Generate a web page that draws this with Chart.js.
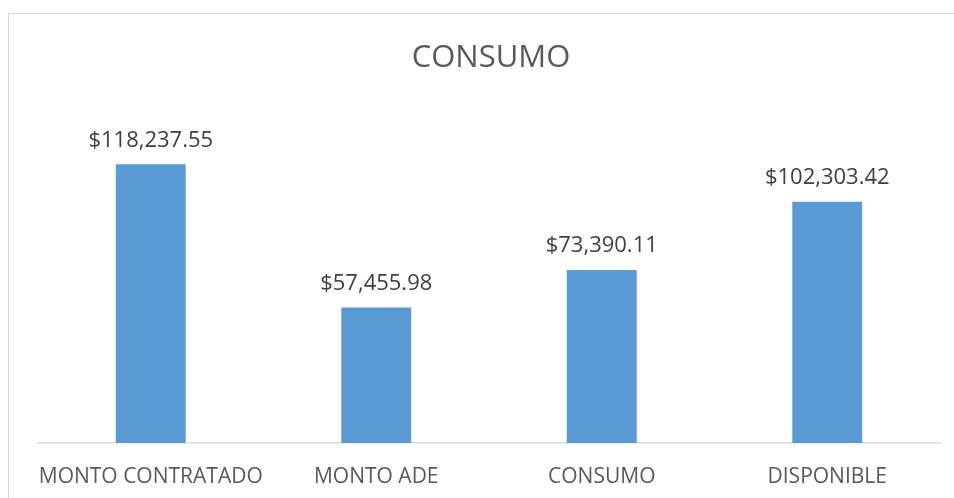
<!DOCTYPE html>
<html>
<head>
<meta charset="utf-8">
<script src="https://cdn.jsdelivr.net/npm/chart.js@4"></script>
<style>
  html, body { margin: 0; padding: 0; background: #fff; }
  body { width: 954px; height: 498px; overflow: hidden; position: relative; }
  #box { position: absolute; left: 8px; top: 13px; border: 1px solid #d9d9d9; width: 966px; height: 490px; }
  canvas { display: block; }
</style>
</head>
<body>
<div id="box"><canvas id="chart" width="966" height="490"></canvas></div>
<script>
// Datos del gráfico
const chartTitle = 'CONSUMO';
const categories = ['MONTO CONTRATADO', 'MONTO ADE', 'CONSUMO', 'DISPONIBLE'];
const values = [118237.55, 57455.98, 73390.11, 102303.42];
const yMax = 140000;

const fontFamily = '"Open Sans", "Liberation Sans", sans-serif';
const textColor = '#595959';

// Título dibujado a mano
const titlePlugin = {
    id: 'manualTitle',
    afterDraw(chart) {
        const ctx = chart.ctx;
        ctx.save();
        ctx.font = `31px ${fontFamily}`;
        ctx.fillStyle = textColor;
        ctx.textAlign = 'center';
        ctx.textBaseline = 'middle';
        ctx.fillText(chartTitle, 482, 44);
        ctx.restore();
    }
};

// Etiquetas de datos sobre las barras
const labelsPlugin = {
    id: 'barLabels',
    afterDatasetsDraw(chart) {
        const ctx = chart.ctx;
        const meta = chart.getDatasetMeta(0);
        ctx.save();
        ctx.font = `22px ${fontFamily}`;
        ctx.fillStyle = '#404040';
        ctx.textAlign = 'center';
        ctx.textBaseline = 'middle';
        meta.data.forEach((bar, i) => {
            const text = '$' + values[i].toLocaleString('en-US', { minimumFractionDigits: 2, maximumFractionDigits: 2 });
            ctx.fillText(text, bar.x, bar.y - 24);
        });
        ctx.restore();
    }
};

new Chart(document.getElementById('chart'), {
    type: 'bar',
    data: {
        labels: categories,
        datasets: [{
            data: values,
            backgroundColor: '#5B9BD5',
            borderWidth: 0,
            barPercentage: 0.31,
            categoryPercentage: 1
        }]
    },
    options: {
        responsive: false,
        animation: false,
        layout: { padding: { top: 99, left: 29, right: 35, bottom: 0 } },
        plugins: {
            legend: { display: false },
            title: { display: false },
            tooltip: { enabled: false }
        },
        scales: {
            x: {
                grid: { display: false },
                border: { display: true, color: '#d9d9d9', width: 1.5 },
                ticks: {
                    color: textColor,
                    font: { family: fontFamily, size: 21 },
                    padding: 13,
                    maxRotation: 0,
                    autoSkip: false
                },
                afterFit(scale) { scale.height = 61; }
            },
            y: {
                display: false,
                min: 0,
                max: yMax
            }
        }
    },
    plugins: [titlePlugin, labelsPlugin]
});
</script>
</body>
</html>
